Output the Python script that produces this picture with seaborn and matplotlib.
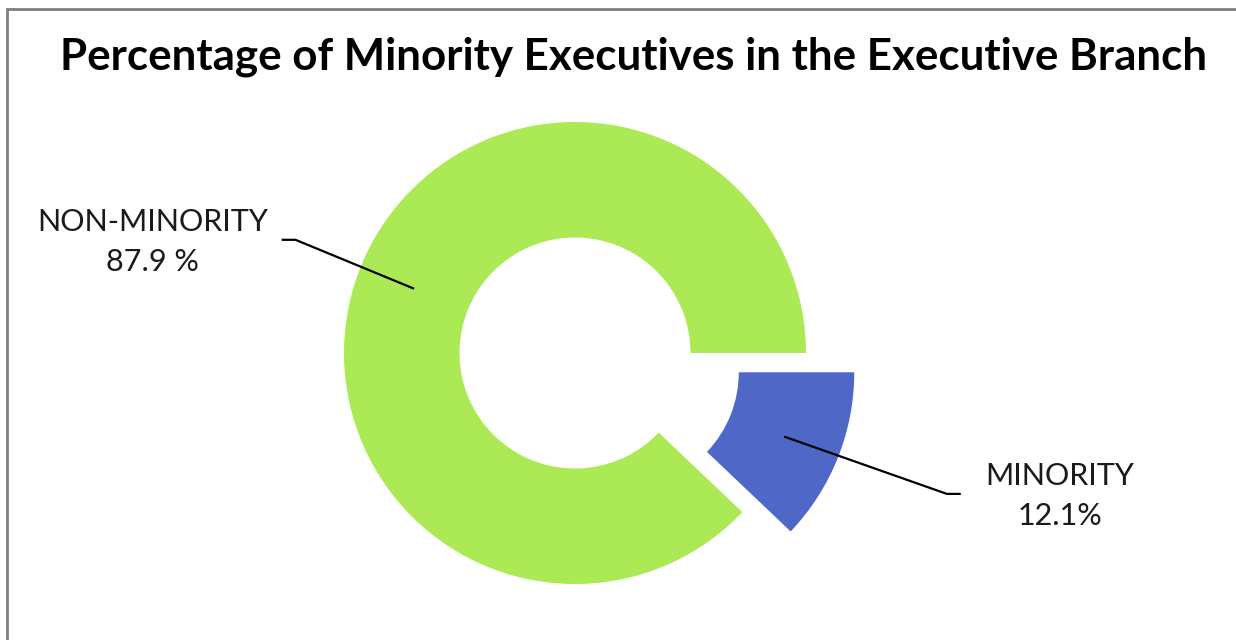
import numpy as np
import matplotlib
matplotlib.use("Agg")
import matplotlib.pyplot as plt
from matplotlib.patches import Rectangle
import seaborn as sns

# Share of executives in the executive branch
categories = ["NON-MINORITY", "MINORITY"]
shares = [87.9, 12.1]
value_labels = ["87.9 %", "12.1%"]
colors = ["#abea55", "#4f68c8"]

sns.set_theme(style="white")
plt.rcParams["font.family"] = ["Lato", "DejaVu Sans"]

W, H, DPI = 1236, 640, 100
fig = plt.figure(figsize=(W / DPI, H / DPI), dpi=DPI)
fig.patch.set_facecolor("white")

# axes spanning the whole figure; one data unit equals the donut radius
R_PX = 231.0
CX, CY = 575.0, 353.0
ax = fig.add_axes([0, 0, 1, 1])

explode = [0.0, 0.225]
wedges, _ = ax.pie(
    shares,
    colors=colors,
    startangle=0,
    counterclock=True,
    explode=explode,
    radius=1.0,
    wedgeprops=dict(width=0.5, edgecolor="none", linewidth=0),
)

ax.set_aspect("auto")
ax.set_xlim(-CX / R_PX, (W - CX) / R_PX)
ax.set_ylim(-(H - CY) / R_PX, CY / R_PX)
ax.axis("off")

# label placement (text centre, elbow end of the leader line)
text_pos = [(-1.83, 0.48), (2.10, -0.62)]
elbow = [(-1.21, 0.49), (1.61, -0.61)]
elbow_dir = [-1, 1]

for w, ex, cat, val, tp, el, d in zip(wedges, explode, categories, value_labels,
                                       text_pos, elbow, elbow_dir):
    mid = np.deg2rad((w.theta1 + w.theta2) / 2.0)
    ux, uy = np.cos(mid), np.sin(mid)
    ax_x = ex * ux + 0.75 * ux
    ax_y = ex * uy + 0.75 * uy
    ax.plot([ax_x, el[0], el[0] + d * 0.06], [ax_y, el[1], el[1]],
            color="black", lw=1.6, solid_capstyle="butt")
    ax.text(tp[0], tp[1], f"{cat}\n{val}", ha="center", va="center",
            fontsize=22, fontweight="normal", color="#1a1a1a",
            linespacing=1.52)

fig.text(634 / W, 1 - 57 / H,
         "Percentage of Minority Executives in the Executive Branch",
         ha="center", va="center", fontsize=31.6, fontweight="bold",
         color="black")

# thin grey frame running off the right and bottom edges
fig.patches.append(Rectangle((7 / W, -0.1), 1.2, 1.1 - 9 / H,
                             transform=fig.transFigure, fill=False,
                             edgecolor="#7f7f7f", linewidth=2))

fig.savefig("out.png", dpi=DPI, facecolor="white")
